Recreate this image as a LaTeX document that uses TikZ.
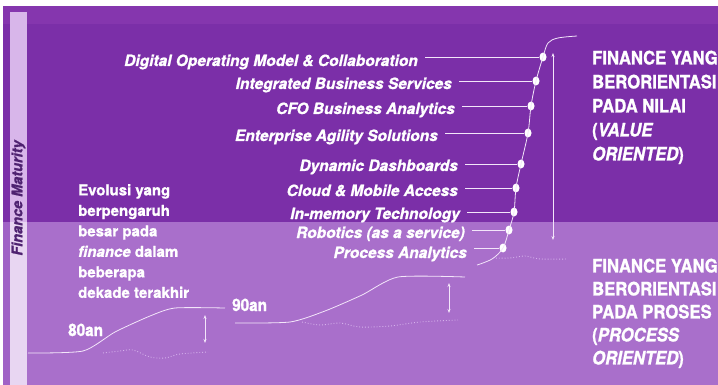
\documentclass[tikz,border=0pt]{standalone}
\usepackage{fontspec}
\setmainfont{texgyreheros}[
  Extension=.otf,
  UprightFont=*-regular,
  BoldFont=*-bold,
  ItalicFont=*-italic,
  BoldItalicFont=*-bolditalic,
  FakeBold=1.0]
% slightly squeezed face for the side headings
\newfontfamily\headsans{texgyreheros}[
  Extension=.otf,
  FakeStretch=0.9,
  FakeBold=1.2,
  UprightFont=*-regular,
  BoldFont=*-bold,
  ItalicFont=*-italic,
  BoldItalicFont=*-bolditalic]
\usetikzlibrary{shapes.geometric,arrows.meta}

\definecolor{deepviolet}{HTML}{7B2FA8}
\definecolor{bandviolet}{HTML}{8536AE}
\definecolor{softviolet}{HTML}{A96FCB}
\definecolor{stripdark}{HTML}{D8B6EA}
\definecolor{striplight}{HTML}{E8D6F2}
\definecolor{edgelight}{HTML}{A062C6}
\definecolor{labelink}{HTML}{4E2270}
\definecolor{trace}{HTML}{F3E6FA}
\definecolor{ghost}{HTML}{D6B2EC}

\tikzset{
  item/.style={font=\bfseries\itshape\fontsize{15.5}{18}\selectfont, text=white, inner sep=0pt, anchor=base east},
  bodytext/.style={font=\bfseries\fontsize{15}{20.5}\selectfont, text=white, inner sep=0pt, anchor=north west, align=left},
  headtext/.style={font=\headsans\bfseries\fontsize{18.5}{24}\selectfont, text=white, inner sep=0pt, anchor=north west, align=left},
  eralabel/.style={font=\headsans\bfseries\fontsize{17}{20}\selectfont, text=white, inner sep=0pt, anchor=base west},
  dot/.style={ellipse, fill=white, draw=none, inner sep=0pt, minimum width=7pt, minimum height=9pt},
  conn/.style={draw=trace, line width=0.8pt},
  trend/.style={draw=trace, line width=0.8pt},
  ghosttrace/.style={draw=ghost, line width=0.9pt, dotted},
  span/.style={draw=trace, line width=0.6pt, {Stealth[length=4pt,width=3pt]}-{Stealth[length=4pt,width=3pt]}},
}

\begin{document}
\begin{tikzpicture}[x=1pt,y=-1pt]
\useasboundingbox (0,0) rectangle (718,385);
% page and panels
\fill[white] (0,0) rectangle (718,385);
\fill[deepviolet] (3,6) rectangle (718,222);
\fill[bandviolet] (3,6) rectangle (718,24);
\fill[softviolet] (3,222) rectangle (718,385);
\fill[edgelight] (3,222) rectangle (10,385);
% side strip with its label
\fill[stripdark] (10,12) rectangle (27,222);
\fill[striplight] (10,222) rectangle (27,385);
\node[rotate=90, font=\bfseries\itshape\fontsize{14.5}{15}\selectfont, text=labelink, inner sep=0pt] (axis) at (18.5,198) {Finance Maturity};

% capability list
\node[item] (i1) at (418,66) {Digital Operating Model \&\ Collaboration};
\node[item] (i2) at (452,89) {Integrated Business Services};
\node[item] (i3) at (455,114) {CFO Business Analytics};
\node[item] (i4) at (438,141) {Enterprise Agility Solutions};
\node[item] (i5) at (458,171) {Dynamic Dashboards};
\node[item] (i6) at (458,196) {Cloud \& Mobile Access};
\node[item] (i7) at (460,219) {In-memory Technology};
\node[item] (i8) at (465,238) {Robotics (as a service)};
\node[item] (i9) at (467,258) {Process Analytics};

% milestones on the maturity curve
\node[dot] (d1) at (543,57) {};
\node[dot] (d2) at (536,81) {};
\node[dot] (d3) at (531,106) {};
\node[dot] (d4) at (528,133) {};
\node[dot] (d5) at (521,164) {};
\node[dot] (d6) at (516,188) {};
\node[dot] (d7) at (514,212) {};
\node[dot] (d8) at (509,230) {};
\node[dot] (d9) at (503,248) {};

\foreach \k in {1,...,9}
  \draw[conn] ([xshift=7pt]i\k.east |- d\k) -- (d\k);

% steep curve of the current era
\coordinate (c0) at (477,265);
\coordinate (c1) at (548,43);
\coordinate (c2) at (577,36);
\draw[trend] plot[smooth, tension=0.55] coordinates {(c0) (492,259) (d9.center) (d8.center) (d7.center) (d6.center) (d5.center) (d4.center) (d3.center) (d2.center) (d1.center) (c1) (558,38) (c2)};
\draw[ghosttrace] plot[smooth] coordinates {(493,258) (510,258) (525,256) (540,259) (567,259)};
\coordinate (a1) at (553,53);
\coordinate (a2) at (553,240);
\draw[span] (a1) -- (a2);

% 90an era
\node[eralabel] (e90) at (232,311) {90an};
\draw[trend] plot[smooth, tension=0.4] coordinates {(235,323) (290,322) (325,311) (362,295) (398,277) (465,277)};
\draw[ghosttrace] plot[smooth] coordinates {(302,322) (320,325) (340,323) (360,327) (390,326) (420,322) (458,320)};
\coordinate (b1) at (449,283);
\coordinate (b2) at (449,313);
\draw[span] (b1) -- (b2);

% 80an era
\node[eralabel] (e80) at (68,336) {80an};
\draw[trend] plot[smooth, tension=0.4] coordinates {(28,353) (83,351) (115,332) (150,316) (175,308) (225,308)};
\draw[ghosttrace] plot[smooth] coordinates {(103,353) (120,351) (133,350) (150,357) (165,358) (180,354) (208,352)};
\coordinate (g1) at (205,315);
\coordinate (g2) at (205,343);
\draw[span] (g1) -- (g2);

% explanatory text
\node[bodytext] (evol) at (78,184) {Evolusi yang\\berpengaruh\\besar pada\\{\itshape finance} dalam\\beberapa\\dekade terakhir};

\node[headtext] (value) at (592,50.5) {FINANCE YANG\\BERORIENTASI\\PADA NILAI\\({\itshape VALUE}\\{\itshape ORIENTED})};
\node[headtext, font=\headsans\bfseries\fontsize{18.5}{23}\selectfont] (process) at (592,258.5) {FINANCE YANG\\BERORIENTASI\\PADA PROSES\\({\itshape PROCESS}\\{\itshape ORIENTED})};
\end{tikzpicture}
\end{document}
